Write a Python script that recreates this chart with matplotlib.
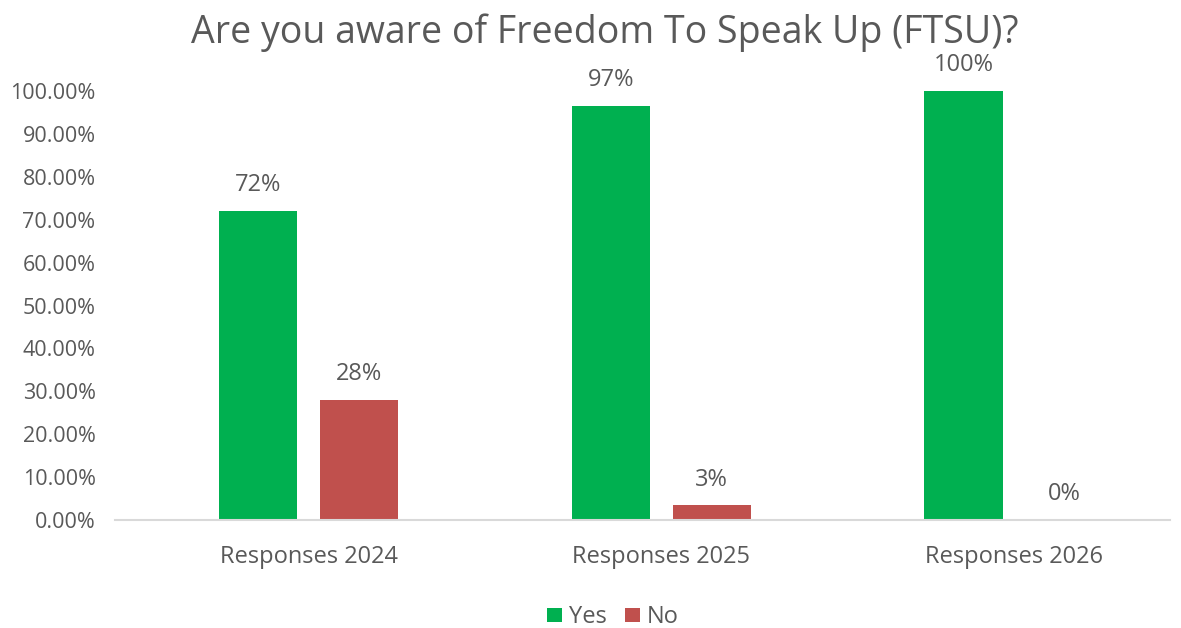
import matplotlib
matplotlib.use("Agg")
import matplotlib.pyplot as plt
import numpy as np

categories = ["Responses 2024", "Responses 2025", "Responses 2026"]
series_names = ["Yes", "No"]
yes_values = [0.72, 0.966, 1.00]
no_values = [0.28, 0.034, 0.00]
yes_labels = ["72%", "97%", "100%"]
no_labels = ["28%", "3%", "0%"]
y_ticks = [0.0, 0.1, 0.2, 0.3, 0.4, 0.5, 0.6, 0.7, 0.8, 0.9, 1.0]

plt.rcParams['font.family'] = ['Open Sans', 'DejaVu Sans']
text_color = "#595959"
green = "#00B050"
red = "#C0504D"

fig = plt.figure(figsize=(11.81, 6.28), dpi=100)
ax = fig.add_axes([0.0974, 0.172, 0.8933, 0.683])

x = np.arange(len(categories))
w = 0.222
off = 0.143
b1 = ax.bar(x - off, yes_values, w, color=green, label=series_names[0])
b2 = ax.bar(x + off, no_values, w, color=red, label=series_names[1])

for bars, labs in ((b1, yes_labels), (b2, no_labels)):
    for rect, lab in zip(bars, labs):
        ax.annotate(lab, (rect.get_x() + rect.get_width() / 2, rect.get_height()),
                    xytext=(0, 10), textcoords="offset points", ha="center", va="bottom",
                    fontsize=17, color=text_color, annotation_clip=False)

ax.set_xlim(-0.5485, 2.442)
ax.set_ylim(0, 1.0)
ax.set_yticks(y_ticks)
ax.set_yticklabels([f"{t*100:.2f}%" for t in y_ticks])
ax.set_xticks(x)
ax.set_xticklabels(categories)
ax.tick_params(axis="both", length=0, colors=text_color)
ax.tick_params(axis="x", pad=18, labelsize=17)
ax.tick_params(axis="y", pad=14, labelsize=15.5)
for s in ["top", "right", "left"]:
    ax.spines[s].set_visible(False)
ax.spines["bottom"].set_color("#D9D9D9")
ax.spines["bottom"].set_linewidth(1.5)

fig.text(0.512, 0.948, "Are you aware of Freedom To Speak Up (FTSU)?", ha="center", va="center",
         fontsize=27, color=text_color)

leg = fig.legend(handles=[b1, b2], labels=series_names, loc="center", bbox_to_anchor=(0.519, 0.017),
                 ncol=2, frameon=False, fontsize=17, handlelength=0.6, handleheight=0.6,
                 handletextpad=0.3, columnspacing=0.8, labelcolor=text_color)

fig.savefig("out.png", dpi=100)
